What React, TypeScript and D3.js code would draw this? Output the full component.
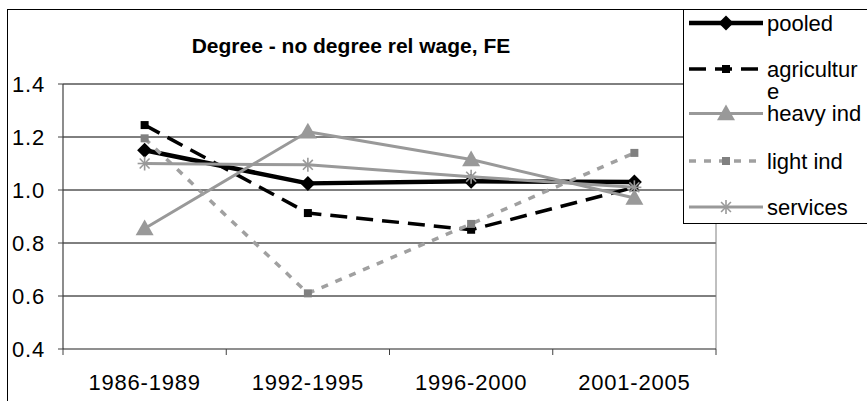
import React from "react";
import * as d3 from "d3";

const categories = ["1986-1989", "1992-1995", "1996-2000", "2001-2005"];
const pooled = [1.15, 1.025, 1.033, 1.03];
const agriculture = [1.245, 0.913, 0.85, 1.01];
const heavyInd = [0.855, 1.22, 1.115, 0.97];
const lightInd = [1.195, 0.61, 0.872, 1.14];
const services = [1.1, 1.095, 1.05, 1.01];
const yTicks = [0.4, 0.6, 0.8, 1.0, 1.2, 1.4];
const seriesNames = ["pooled", "agriculture", "heavy ind", "light ind", "services"];

const W = 867;
const H = 401;
const FONT = "'Liberation Sans', Arial, sans-serif";

type Series = {
  name: string;
  label: string[];
  values: number[];
  color: string;
  width: number;
  dash?: string;
  marker: "diamond" | "square" | "triangle" | "lsquare" | "star";
  markerColor: string;
};

const series: Series[] = [
  { name: seriesNames[0], label: ["pooled"], values: pooled, color: "#000", width: 4.5, marker: "diamond", markerColor: "#000" },
  { name: seriesNames[1], label: ["agricultur", "e"], values: agriculture, color: "#000", width: 3.5, dash: "17,9", marker: "square", markerColor: "#000" },
  { name: seriesNames[2], label: ["heavy ind"], values: heavyInd, color: "#999999", width: 3, marker: "triangle", markerColor: "#999999" },
  { name: seriesNames[3], label: ["light ind"], values: lightInd, color: "#a0a0a0", width: 3.5, dash: "7,8", marker: "lsquare", markerColor: "#808080" },
  { name: seriesNames[4], label: ["services"], values: services, color: "#999999", width: 3, marker: "star", markerColor: "#999999" },
];

function Marker({ type, x, y, color }: { type: string; x: number; y: number; color: string }) {
  if (type === "diamond") {
    const r = 7.5;
    return <path d={`M${x},${y - r}L${x + r},${y}L${x},${y + r}L${x - r},${y}Z`} fill={color} />;
  }
  if (type === "square" || type === "lsquare") {
    const s = 8;
    return <rect x={x - s / 2} y={y - s / 2} width={s} height={s} fill={color} />;
  }
  if (type === "triangle") {
    const r = 9;
    return <path d={`M${x},${y - r}L${x + r},${y + r * 0.75}L${x - r},${y + r * 0.75}Z`} fill={color} />;
  }
  if (type === "star") {
    const r = 7;
    const lines = [0, 45, 90, 135].map((a) => {
      const rad = (a * Math.PI) / 180;
      return (
        <line key={a} x1={x - r * Math.cos(rad)} y1={y - r * Math.sin(rad)} x2={x + r * Math.cos(rad)} y2={y + r * Math.sin(rad)} stroke={color} strokeWidth={1.6} />
      );
    });
    return <g>{lines}</g>;
  }
  return null;
}

export default function App() {
  const plotL = 63;
  const plotR = 716;
  const y = d3.scaleLinear().domain([0.4, 1.4]).range([349, 84]);
  const x = d3.scaleBand<string>().domain(categories).range([plotL, plotR]).padding(0);
  const cx = (c: string) => (x(c) as number) + x.bandwidth() / 2;
  const line = d3
    .line<number>()
    .x((_, i) => cx(categories[i]))
    .y((v) => y(v));

  const legendX0 = 689;
  const legendX1 = 763;
  const legendYs = [23, 69, 113.5, 161, 207];

  return (
    <svg width={W} height={H} style={{ position: "absolute", left: 0, top: 0, background: "#fff" }} fontFamily={FONT}>
      <rect x={0} y={0} width={W} height={H} fill="#fff" />
      <rect x={7.5} y={9.5} width={870} height={420} fill="none" stroke="#000" strokeWidth={1} />

      {/* title */}
      <text x={351} y={53} textAnchor="middle" fontSize={21} fontWeight="bold" fill="#000">
        Degree - no degree rel wage, FE
      </text>

      {/* gridlines */}
      {yTicks.slice(1).map((t) => (
        <line key={t} x1={plotL} x2={plotR} y1={y(t)} y2={y(t)} stroke="#000" strokeWidth={1} />
      ))}
      {/* plot right border */}
      <line x1={plotR} x2={plotR} y1={y(1.4)} y2={y(0.4)} stroke="#808080" strokeWidth={1} />

      {/* axes */}
      <line x1={plotL} x2={plotL} y1={y(1.4)} y2={y(0.4)} stroke="#404040" strokeWidth={1.2} />
      <line x1={plotL} x2={plotR} y1={y(0.4)} y2={y(0.4)} stroke="#202020" strokeWidth={1.2} />
      {yTicks.map((t) => (
        <g key={t}>
          <line x1={plotL - 5} x2={plotL} y1={y(t)} y2={y(t)} stroke="#404040" strokeWidth={1} />
          <text x={45} y={y(t) + 8} textAnchor="end" fontSize={22} letterSpacing={0.8} fill="#000">
            {t.toFixed(1)}
          </text>
        </g>
      ))}
      {categories.map((c, i) => (
        <g key={c}>
          <line x1={(x(c) as number) + x.bandwidth()} x2={(x(c) as number) + x.bandwidth()} y1={y(0.4)} y2={y(0.4) + 6} stroke="#404040" strokeWidth={1} />
          {i === 0 && <line x1={plotL} x2={plotL} y1={y(0.4)} y2={y(0.4) + 6} stroke="#404040" strokeWidth={1} />}
          <text x={cx(c)} y={390} textAnchor="middle" fontSize={22} letterSpacing={0.8} fill="#000">
            {c}
          </text>
        </g>
      ))}

      {/* series */}
      {series.map((s) => (
        <g key={s.name}>
          <path d={line(s.values) || ""} fill="none" stroke={s.color} strokeWidth={s.width} strokeDasharray={s.dash} strokeLinejoin="round" />
          {s.values.map((v, i) => (
            <Marker key={i} type={s.marker} x={cx(categories[i])} y={y(v)} color={s.markerColor} />
          ))}
        </g>
      ))}

      {/* legend */}
      <rect x={683.5} y={9.5} width={200} height={214} fill="#fff" stroke="#000" strokeWidth={1} />
      {series.map((s, i) => {
        const ly = legendYs[i];
        return (
          <g key={s.name}>
            <line x1={legendX0} x2={legendX1} y1={ly} y2={ly} stroke={s.color} strokeWidth={s.width} strokeDasharray={s.dash} />
            <Marker type={s.marker} x={(legendX0 + legendX1) / 2} y={ly} color={s.markerColor} />
            {s.label.map((t, j) => (
              <text key={j} x={767} y={ly + 7.5 + j * 22} fontSize={22} fill="#000">
                {t}
              </text>
            ))}
          </g>
        );
      })}
    </svg>
  );
}
